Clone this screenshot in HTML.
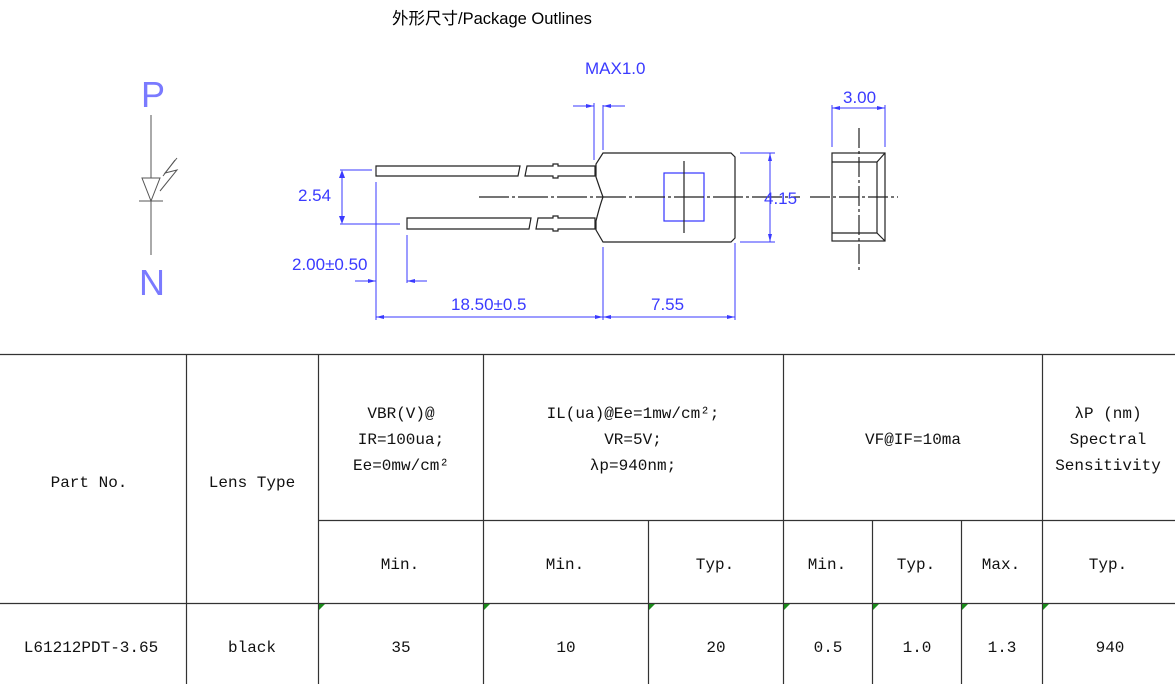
<!DOCTYPE html>
<html><head><meta charset="utf-8"><style>
body{margin:0;width:1175px;height:684px;background:#fff;overflow:hidden;position:relative}
svg{position:absolute;left:0;top:0}
.t{font-family:"Liberation Mono","Noto Serif CJK SC",monospace;font-size:16px;fill:#111}
.d{font-family:"Liberation Sans",sans-serif;font-size:17px;fill:#3a3aff}
</style></head><body>
<svg width="1175" height="684" viewBox="0 0 1175 684">
<text x="392" y="24" font-family="Liberation Sans,'Noto Sans CJK SC',sans-serif" font-size="16.5" fill="#000">外形尺寸/Package Outlines</text>
<text x="141" y="107" font-family="Liberation Sans,sans-serif" font-size="36" fill="#7a7aff">P</text>
<text x="139" y="295" font-family="Liberation Sans,sans-serif" font-size="36" fill="#7a7aff">N</text>
<g stroke="#555" stroke-width="1" fill="none">
<line x1="151" y1="115" x2="151" y2="255"/>
<polygon points="142,178 160,178 151,201" fill="#fff"/>
<line x1="139" y1="201" x2="163" y2="201"/>
<polyline points="177,158 165,173 177,170 160,191"/>
<polyline points="175,160 163,176"/>
</g>
<g stroke="#222" stroke-width="1.2" fill="#fff">
<path d="M376,166 H520 L518,176 H376 Z"/>
<path d="M527,166 H553 V164 H558 V166 H595 V176 H558 V178 H553 V176 H525 Z"/>
<path d="M407,218 H531 L529,229 H407 Z"/>
<path d="M538,218 H553 V216 H558 V218 H595 V229 H558 V231 H553 V229 H536 Z"/>
<path d="M603,153 H731 L735,157 V238 L731,242 H603 L596,230 V221 Q600,205 603,197 Q600,189 596,177 V164 Z"/>
<rect x="664" y="173" width="40" height="48" stroke="#33f" fill="none"/>
<line x1="684" y1="161" x2="684" y2="233"/>
<line x1="479" y1="197" x2="800" y2="197" stroke-dasharray="30,3,3,3"/>
<rect x="832" y="153" width="53" height="88" fill="none"/>
<path d="M832,162 H877 V233 H832 M877,162 L885,153 M877,233 L885,241" fill="none"/>
<line x1="859" y1="128" x2="859" y2="273" stroke-dasharray="20,3,3,3"/>
<line x1="810" y1="197" x2="898" y2="197" stroke-dasharray="20,3,3,3"/>
</g>
<g stroke="#3a3aff" stroke-width="1" fill="none">
<line x1="340" y1="170" x2="372" y2="170"/><line x1="340" y1="224" x2="400" y2="224"/>
<line x1="342" y1="172" x2="342" y2="222"/>
<line x1="376" y1="182" x2="376" y2="320"/><line x1="407" y1="235" x2="407" y2="283"/>
<line x1="355" y1="281" x2="376" y2="281"/><line x1="407" y1="281" x2="427" y2="281"/>
<line x1="376" y1="317" x2="735" y2="317"/>
<line x1="603" y1="247" x2="603" y2="320"/><line x1="735" y1="243" x2="735" y2="320"/>
<line x1="594" y1="103" x2="594" y2="160"/><line x1="603" y1="105" x2="603" y2="150"/>
<line x1="573" y1="106" x2="594" y2="106"/><line x1="603" y1="106" x2="625" y2="106"/>
<line x1="740" y1="153" x2="775" y2="153"/><line x1="740" y1="242" x2="775" y2="242"/>
<line x1="770" y1="153" x2="770" y2="242"/>
<line x1="832" y1="105" x2="832" y2="147"/><line x1="885" y1="105" x2="885" y2="147"/>
<line x1="832" y1="108" x2="885" y2="108"/>
</g>
<g fill="#3a3aff">
<path d="M342,170 l-3,8 h6z M342,224 l-3,-8 h6z"/>
<path d="M376,281 l-8,-2 v4z M407,281 l8,-2 v4z M376,317 l8,-2 v4z M603,317 l-8,-2 v4z M603,317 l8,-2 v4z M735,317 l-8,-2 v4z"/>
<path d="M594,106 l-8,-2 v4z M603,106 l8,-2 v4z M770,153 l-2,8 h4z M770,242 l-2,-8 h4z M832,108 l8,-2 v4z M885,108 l-8,-2 v4z"/>
</g>
<text class="d" x="585" y="74">MAX1.0</text>
<text class="d" x="298" y="201">2.54</text>
<text class="d" x="292" y="270">2.00±0.50</text>
<text class="d" x="451" y="310">18.50±0.5</text>
<text class="d" x="651" y="310">7.55</text>
<text class="d" x="764" y="204">4.15</text>
<text class="d" x="843" y="103">3.00</text>
<g stroke="#333" stroke-width="1.2">
<line x1="0" y1="354.5" x2="1175" y2="354.5"/>
<line x1="318" y1="520.5" x2="1175" y2="520.5"/>
<line x1="0" y1="603.5" x2="1175" y2="603.5"/>
<line x1="186.5" y1="354" x2="186.5" y2="684"/>
<line x1="318.5" y1="354" x2="318.5" y2="684"/>
<line x1="483.5" y1="354" x2="483.5" y2="684"/>
<line x1="648.5" y1="520" x2="648.5" y2="684"/>
<line x1="783.5" y1="354" x2="783.5" y2="684"/>
<line x1="872.5" y1="520" x2="872.5" y2="684"/>
<line x1="961.5" y1="520" x2="961.5" y2="684"/>
<line x1="1042.5" y1="354" x2="1042.5" y2="684"/>
</g>
<g fill="#1a8a1a">
<path d="M319,604 h6 l-6,6z M484,604 h6 l-6,6z M649,604 h6 l-6,6z M784,604 h6 l-6,6z M873,604 h6 l-6,6z M962,604 h6 l-6,6z M1043,604 h6 l-6,6z"/>
</g>
<g class="t" text-anchor="middle">
<text x="89" y="487">Part No.</text>
<text x="252" y="487">Lens Type</text>
<text x="401" y="418">VBR(V)@</text>
<text x="401" y="444">IR=100ua;</text>
<text x="401" y="470">Ee=0mw/cm²</text>
<text x="633" y="418">IL(ua)@Ee=1mw/cm²;</text>
<text x="633" y="444">VR=5V;</text>
<text x="633" y="470">λp=940nm;</text>
<text x="913" y="444">VF@IF=10ma</text>
<text x="1108" y="418">λP (nm)</text>
<text x="1108" y="444">Spectral</text>
<text x="1108" y="470">Sensitivity</text>
<text x="400" y="569">Min.</text>
<text x="565" y="569">Min.</text>
<text x="715" y="569">Typ.</text>
<text x="827" y="569">Min.</text>
<text x="916" y="569">Typ.</text>
<text x="1001" y="569">Max.</text>
<text x="1108" y="569">Typ.</text>
<text x="91" y="652">L61212PDT-3.65</text>
<text x="252" y="652">black</text>
<text x="401" y="652">35</text>
<text x="566" y="652">10</text>
<text x="716" y="652">20</text>
<text x="828" y="652">0.5</text>
<text x="917" y="652">1.0</text>
<text x="1002" y="652">1.3</text>
<text x="1110" y="652">940</text>
</g>
</svg>
</body></html>
